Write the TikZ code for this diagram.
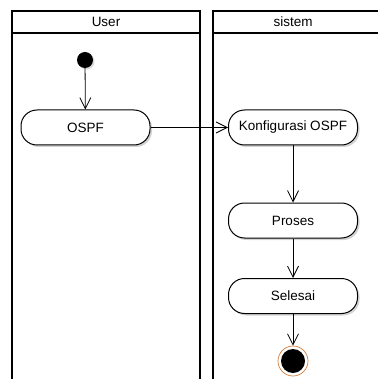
\documentclass[tikz,border=0pt]{standalone}
\usepackage{fontspec}
\setmainfont{Liberation Sans}
\usetikzlibrary{arrows.meta,shadows}
\definecolor{ringorange}{RGB}{210,125,60}
\tikzset{
  lane/.style={line width=1.6pt},
  activity/.style={draw,line width=1pt,fill=white,rounded corners=16pt,
    minimum width=129pt,minimum height=35pt,inner sep=0pt,
    font=\fontsize{13.5}{16}\selectfont,
    drop shadow={opacity=0.35,shadow xshift=2pt,shadow yshift=-2pt}},
  lanetitle/.style={font=\fontsize{13.5}{16}\selectfont,inner sep=0pt},
  flow/.style={line width=0.8pt,-{Straight Barb[length=11pt,width=11pt,line width=0.8pt]}},
  startdot/.style={circle,fill=black,minimum size=16pt,inner sep=0pt,
    drop shadow={opacity=0.3,shadow xshift=1.5pt,shadow yshift=-1.5pt}},
  endring/.style={circle,draw=ringorange,line width=0.7pt,fill=white,minimum size=30pt,inner sep=0pt},
  enddot/.style={circle,fill=black,minimum size=24pt,inner sep=0pt}
}
\begin{document}
\begin{tikzpicture}[x=1pt,y=-1pt]
\useasboundingbox (0,0) rectangle (377,379);
\draw[lane] (12,385)--(12,11)--(200,11)--(200,385);
\draw[lane] (12,33)--(200,33);
\draw[lane] (213,385)--(213,11)--(385,11);
\draw[lane] (213,33)--(385,33);
\node[lanetitle] (user) at (106,22) {User};
\node[lanetitle] (sistem) at (293,22) {sistem};
\node[startdot] (start) at (85,60) {};
\node[activity] (ospf) at (85.5,127.5) {OSPF};
\node[activity] (konf) at (293,127.5) {Konfigurasi OSPF};
\node[activity] (proses) at (293,220.5) {Proses};
\node[activity] (selesai) at (293,296) {Selesai};
\node[endring] (end) at (293,361) {};
\node[enddot] (endfill) at (end) {};
\draw[flow] (start)--(ospf);
\draw[flow] (ospf)--(konf);
\draw[flow] (konf)--(proses);
\draw[flow] (proses)--(selesai);
\draw[flow] (selesai)--(end);
\end{tikzpicture}
\end{document}
